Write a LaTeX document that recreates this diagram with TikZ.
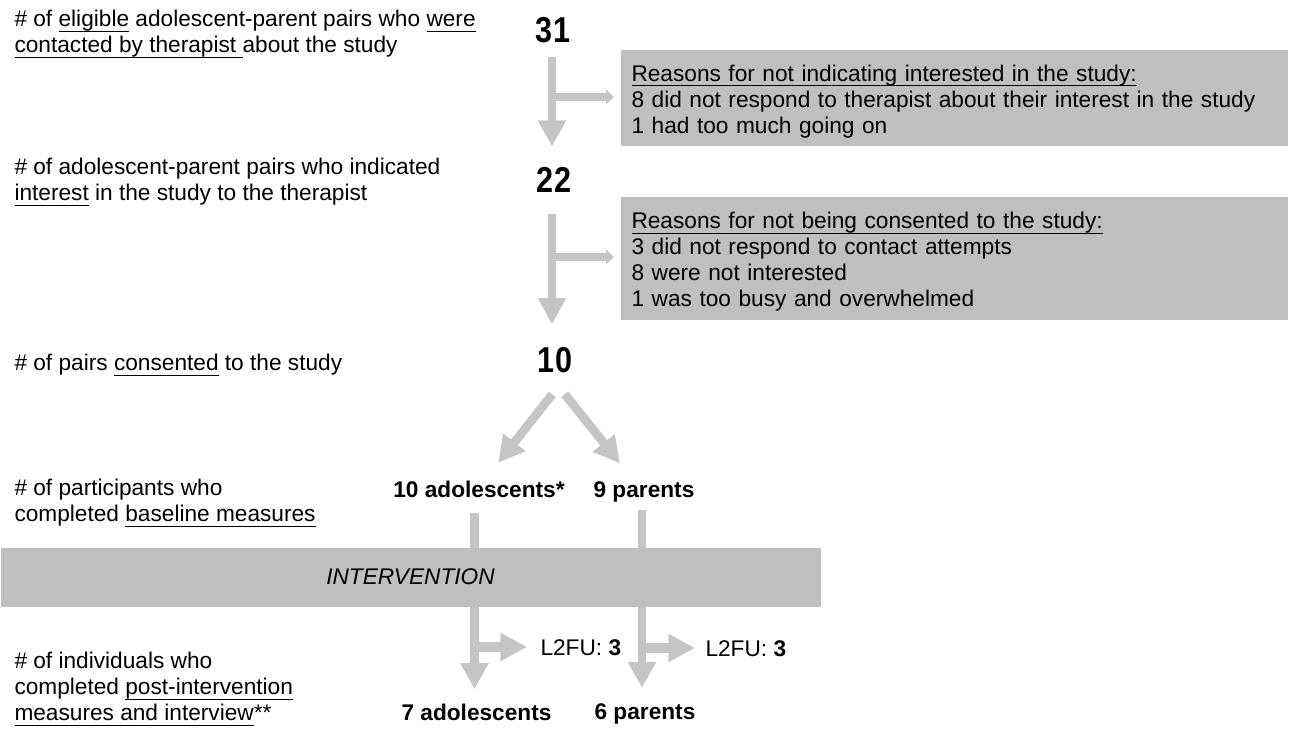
\documentclass[tikz,border=0pt]{standalone}
\usepackage{fontspec}
\setmainfont{Liberation Sans}
\usetikzlibrary{arrows.meta}

\definecolor{boxgray}{RGB}{191,191,191}
\definecolor{arrowgray}{RGB}{197,197,197}

% underline at a fixed depth below the baseline
\newsavebox{\undlbox}
\newcommand{\undl}[1]{\sbox{\undlbox}{#1}\rlap{\rule[-3.9pt]{\wd\undlbox}{0.95pt}}\usebox{\undlbox}}
% taller first line in the reasons boxes
\newcommand{\topstrut}{\rule{0pt}{16.5pt}}
% narrow bold counts
\newcommand{\countval}[1]{\scalebox{0.85}[1]{#1}}

\tikzset{every picture/.style={line width=0.75pt}}
\tikzset{
  stagetext/.style={anchor=north west, inner sep=0pt, align=left, font=\fontsize{17}{19.5}\selectfont},
  countnum/.style={inner sep=0pt, font=\fontsize{27}{30}\selectfont\bfseries},
  grouplabel/.style={anchor=base, inner sep=0pt, font=\fontsize{17}{19.5}\selectfont\bfseries},
  lfulabel/.style={anchor=base west, inner sep=0pt, font=\fontsize{17}{19.5}\selectfont},
  reasonbox/.style={anchor=north west, fill=boxgray, inner ysep=0pt, inner xsep=8.25pt, text width=483.75pt, align=left, font=\fontsize{17}{19.5}\selectfont},
  interbox/.style={anchor=north west, fill=boxgray, inner sep=0pt, minimum width=615pt, minimum height=44.25pt, font=\fontsize{17}{19.5}\selectfont\itshape},
  flowarrow/.style={draw=arrowgray, line width=6.6pt, -{Triangle[width=20pt,length=19.5pt]}},
  sidearrow/.style={draw=arrowgray, line width=6pt, -{Triangle[width=11pt,length=6pt]}},
  lfuarrow/.style={draw=arrowgray, line width=7.2pt, -{Triangle[width=20pt,length=20pt]}}
}

\begin{document}
\begin{tikzpicture}[x=0.75pt,y=0.75pt,yscale=-1,xscale=1]
    \useasboundingbox (0,0) rectangle (1289,752);

    % Text Node
    \node [stagetext] (stage1) at (14,9.8) {\# of \undl{eligible} adolescent-parent pairs who \undl{were}\\\undl{contacted by therapist\ }about the study};
    % Text Node
    \node [stagetext] (stage2) at (14,157.8) {\# of adolescent-parent pairs who indicated\\\undl{interest} in the study to the therapist};
    % Text Node
    \node [stagetext] (stage3) at (14,353.8) {\# of pairs \undl{consented} to the study};
    % Text Node
    \node [stagetext] (stage4) at (14,478.8) {\# of participants who\\completed \undl{baseline measures}};
    % Text Node
    \node [stagetext] (stage5) at (14,651.8) {\# of individuals who\\completed \undl{post-intervention}\\\undl{measures and interview}**};

    % Counts
    \node [countnum] (n31) at (553,30) {\countval{31}};
    \node [countnum] (n22) at (554,180) {\countval{22}};
    \node [countnum] (n10) at (555,360) {\countval{10}};

    % Reasons boxes
    \node [reasonbox, minimum height=72pt] (reason1) at (620,50) {\topstrut\undl{Reasons for not indicating interested in the study:}\\8 did not respond to therapist about their interest in the study\\1 had too much going on};
    \node [reasonbox, minimum height=92.25pt] (reason2) at (620,197) {\topstrut\undl{Reasons for not being consented to the study:}\\3 did not respond to contact attempts\\8 were not interested\\1 was too busy and overwhelmed};

    % Groups
    \node [grouplabel] (ado10) at (479,497) {10 adolescents*};
    \node [grouplabel] (par9) at (644,497) {9 parents};
    \node [grouplabel] (ado7) at (476.5,720) {7 adolescents};
    \node [grouplabel] (par6) at (645,719) {6 parents};

    % Lost to follow-up
    \node [lfulabel] (lfu1) at (540,655) {L2FU: \textbf{3}};
    \node [lfulabel] (lfu2) at (705,656) {L2FU: \textbf{3}};

    % Arrows
    \draw [flowarrow, shorten <=10pt, shorten >=15.4pt] ([xshift=-0.75pt]n31.south) -- ([xshift=-0.75pt]n31.south |- n22.north);
    \coordinate (fork1) at (552,97);
    \draw [sidearrow, shorten >=4.5pt] (fork1) -- (fork1 -| reason1.west);

    \draw [flowarrow, shorten <=15.4pt, shorten >=16.9pt] ([xshift=-1.5pt]n22.south) -- ([xshift=-1.5pt]n22.south |- n10.north);
    \coordinate (fork2) at (552,257);
    \draw [sidearrow, shorten >=4.5pt] (fork2) -- (fork2 -| reason2.west);

    \draw [flowarrow, shorten <=20.2pt, shorten >=16.6pt] ([xshift=10.5pt]n10.south) -- ([xshift=4.1pt]ado10.north);
    \draw [flowarrow, shorten <=20.1pt, shorten >=16.7pt] ([xshift=-5.2pt]n10.south) -- ([xshift=-7.7pt]par9.north);

    \draw [flowarrow, shorten <=11.25pt, shorten >=10.4pt] ([xshift=-3.4pt]ado10.south) -- ([xshift=-3.4pt]ado10.south |- ado7.north);
    \draw [flowarrow, shorten <=6.2pt, shorten >=11.1pt] ([xshift=-1.5pt]par9.south) -- ([xshift=-1.5pt]par9.south |- par6.north);

    \coordinate (fork3) at (474.5,647);
    \draw [lfuarrow, shorten >=9.75pt] (fork3) -- (fork3 -| lfu1.west);
    \coordinate (fork4) at (642,648);
    \draw [lfuarrow, shorten >=7.5pt] (fork4) -- (fork4 -| lfu2.west);

    % Intervention band
    \node [interbox] (interv) at (0,547) {INTERVENTION};
\end{tikzpicture}
\end{document}
